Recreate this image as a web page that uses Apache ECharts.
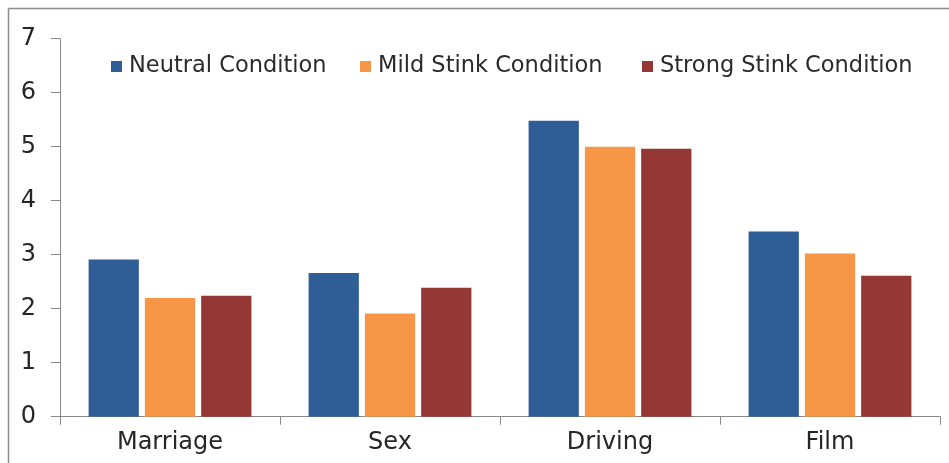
<!DOCTYPE html>
<html>
<head>
<meta charset="utf-8">
<script src="https://cdn.jsdelivr.net/npm/echarts@6/dist/echarts.min.js"></script>
<style>
  html, body { margin: 0; padding: 0; background: #fff; }
  #chart { width: 949px; height: 463px; }
</style>
</head>
<body>
<div id="chart"></div>
<script>
// Ratings per topic under three odour conditions
const categories = ['Marriage', 'Sex', 'Driving', 'Film'];
const neutral = [2.91, 2.66, 5.48, 3.43];
const mildStink = [2.20, 1.91, 5.00, 3.02];
const strongStink = [2.24, 2.39, 4.96, 2.61];
const seriesNames = ['Neutral Condition', 'Mild Stink Condition', 'Strong Stink Condition'];
const yTicks = [0, 1, 2, 3, 4, 5, 6, 7];

const colors = ['#2F5D95', '#F79646', '#953735'];
const font = 'DejaVu Sans';
const axisGrey = '#888888';

const chart = echarts.init(document.getElementById('chart'), null, { renderer: 'canvas' });

// one legend block per series so each entry sits at its own spot
const legendLeft = [106, 355, 637];
const legends = seriesNames.map((name, i) => ({
  data: [name],
  left: legendLeft[i],
  top: 50,
  itemWidth: 11,
  itemHeight: 11,
  icon: 'rect',
  itemGap: 0,
  textStyle: { fontFamily: font, fontSize: 22.5, color: '#2a2a2a', padding: [0, 0, 0, 2] }
}));

chart.setOption({
  backgroundColor: '#ffffff',
  animation: false,
  color: colors,
  legend: legends,
  grid: { left: 60, right: 9, top: 38.7, bottom: 46.3, containLabel: false },
  xAxis: {
    type: 'category',
    data: categories,
    axisLine: { lineStyle: { color: axisGrey, width: 1 } },
    axisTick: { show: true, inside: false, length: 8, alignWithLabel: false, lineStyle: { color: axisGrey } },
    axisLabel: { fontFamily: font, fontSize: 24, color: '#262626', margin: 14 },
    splitLine: { show: false }
  },
  yAxis: {
    type: 'value',
    min: yTicks[0],
    max: yTicks[yTicks.length - 1],
    interval: 1,
    axisLine: { show: true, lineStyle: { color: axisGrey, width: 1 } },
    axisTick: { show: true, inside: false, length: 9, lineStyle: { color: axisGrey } },
    axisLabel: { fontFamily: font, fontSize: 24, color: '#262626', margin: 24 },
    splitLine: { show: false }
  },
  series: [
    { name: seriesNames[0], type: 'bar', data: neutral, barGap: '12%', barCategoryGap: '26%' },
    { name: seriesNames[1], type: 'bar', data: mildStink, barGap: '12%', barCategoryGap: '26%' },
    { name: seriesNames[2], type: 'bar', data: strongStink, barGap: '12%', barCategoryGap: '26%' }
  ],
  graphic: [
    { type: 'line', shape: { x1: 8.5, y1: 8.5, x2: 949, y2: 8.5 }, style: { stroke: '#8c8c8c', lineWidth: 1.5 }, silent: true },
    { type: 'line', shape: { x1: 8.5, y1: 8.5, x2: 8.5, y2: 463 }, style: { stroke: '#8c8c8c', lineWidth: 1.5 }, silent: true }
  ]
});
</script>
</body>
</html>
